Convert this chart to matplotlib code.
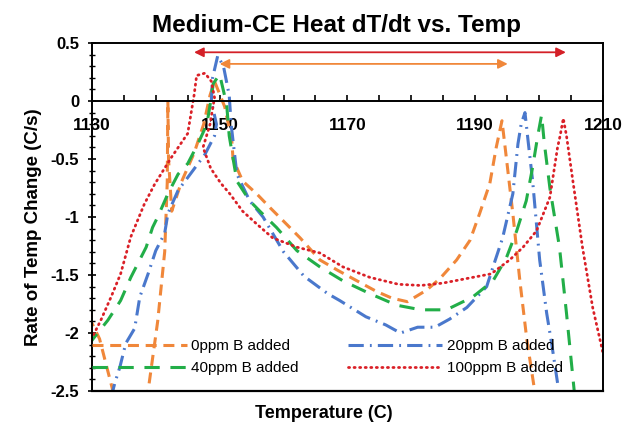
import matplotlib.pyplot as plt
from matplotlib.ticker import MultipleLocator, FuncFormatter

plt.rcParams["font.family"] = ["Liberation Sans", "DejaVu Sans"]
plt.rcParams["axes.unicode_minus"] = False


# =========================================================
# Data
# =========================================================

labels = ["0ppm B added", "20ppm B added", "40ppm B added", "100ppm B added"]

x_ticks = [1130, 1150, 1170, 1190, 1210]

temp_0ppm = [1199.6, 1198.1, 1197.0, 1195.9, 1194.8, 1194.2, 1193.3, 1192.3, 1190.7,
             1189.2, 1187.1, 1184.5, 1182.4, 1179.4, 1177.0, 1174.5, 1171.5, 1168.5,
             1165.7, 1162.6, 1159.9, 1157.9, 1155.8, 1153.6, 1152.1, 1151.9, 1150.8,
             1149.2, 1148.5, 1147.5, 1146.0, 1144.0, 1142.5, 1142.0, 1141.9, 1141.8,
             1141.4, 1140.3, 1138.8, 1136.5, 1134.5, 1133.3, 1131.2, 1129.0]
rate_0ppm = [-2.6, -2.06, -1.55, -0.97, -0.45, -0.17, -0.4, -0.71, -0.97,
             -1.2, -1.37, -1.53, -1.63, -1.73, -1.70, -1.64, -1.55, -1.46,
             -1.37, -1.18, -1.03, -0.92, -0.8, -0.69, -0.5, -0.34, -0.05,
             0.17, 0.05, -0.2, -0.45, -0.7, -0.95, -0.5, 0.0, -0.7,
             -1.3, -1.9, -2.5, -2.9, -2.9, -2.5, -2.05, -1.8]

temp_20ppm = [1202.9, 1202.0, 1201.2, 1200.1, 1199.0, 1198.3, 1197.8, 1197.2, 1196.7,
              1195.9, 1194.3, 1192.8, 1191.8, 1188.7, 1186.0, 1183.7, 1181.0, 1178.3,
              1176.0, 1172.9, 1168.8, 1166.9, 1163.2, 1160.0, 1156.8, 1154.7, 1152.7,
              1151.8, 1151.5, 1150.6, 1149.7, 1148.9, 1148.7, 1149.5, 1149.2, 1147.7,
              1145.0, 1143.5, 1141.9, 1141.4, 1140.0, 1138.8, 1137.5, 1136.7, 1135.3,
              1134.4, 1133.6, 1132.8]
rate_20ppm = [-2.43, -2.1, -1.83, -1.37, -0.69, -0.35, -0.1, -0.2, -0.37,
              -0.8, -1.18, -1.43, -1.6, -1.78, -1.88, -1.95, -1.95, -2.0,
              -1.93, -1.86, -1.72, -1.66, -1.51, -1.30, -1.0, -0.86, -0.63,
              -0.2, 0.05, 0.3, 0.39, 0.2, 0.0, -0.2, -0.3, -0.46,
              -0.66, -0.77, -0.97, -1.14, -1.29, -1.49, -1.69, -1.96, -2.09,
              -2.29, -2.43, -2.6]

temp_40ppm = [1205.6, 1204.3, 1203.2, 1201.7, 1200.8, 1200.4, 1199.8, 1199.0, 1198.0,
              1196.5, 1194.9, 1192.8, 1189.6, 1185.5, 1181.5, 1177.7, 1173.5, 1169.3,
              1165.7, 1162.1, 1158.9, 1156.3, 1154.7, 1152.7, 1151.5, 1151.1, 1150.0,
              1149.0, 1148.7, 1148.0, 1146.6, 1145.0, 1143.5, 1141.9, 1140.3, 1139.5,
              1138.5, 1136.1, 1134.5, 1132.5, 1130.9, 1129.5]
rate_40ppm = [-2.55, -1.83, -1.26, -0.75, -0.35, -0.12, -0.3, -0.57, -0.86,
              -1.12, -1.35, -1.55, -1.69, -1.80, -1.80, -1.76, -1.66, -1.55,
              -1.43, -1.29, -1.09, -0.95, -0.86, -0.69, -0.3, -0.03, 0.23,
              0.15, 0.03, -0.2, -0.37, -0.54, -0.63, -0.8, -1.0, -1.09,
              -1.26, -1.52, -1.72, -1.89, -2.0, -2.1]

temp_100ppm = [1210.5, 1209.8, 1208.4, 1206.8, 1205.3, 1204.3, 1203.8, 1203.3, 1202.9,
               1201.7, 1199.6, 1197.5, 1195.4, 1192.5, 1188.7, 1184.9, 1181.5, 1178.0,
               1173.5, 1169.3, 1165.7, 1162.1, 1158.3, 1155.8, 1153.6, 1151.6, 1150.2,
               1148.6, 1147.4, 1148.5, 1149.2, 1148.7, 1147.7, 1146.4, 1146.0, 1145.0,
               1142.4, 1139.8, 1138.2, 1136.1, 1134.5, 1133.0, 1131.4, 1130.4, 1129.5]
rate_100ppm = [-2.3, -2.12, -1.78, -1.26, -0.69, -0.3, -0.15, -0.3, -0.4,
               -0.83, -1.12, -1.26, -1.37, -1.49, -1.53, -1.57, -1.59, -1.58,
               -1.52, -1.43, -1.31, -1.26, -1.18, -1.06, -0.95, -0.8, -0.71,
               -0.58, -0.4, -0.2, 0.03, 0.17, 0.24, 0.22, 0.05, -0.28,
               -0.49, -0.72, -0.89, -1.17, -1.49, -1.69, -1.89, -2.0, -2.1]

# double arrows at the top: (start temp, end temp, rate level)
red_arrow = (1146.0, 1204.2, 0.42)
orange_arrow = (1150.0, 1195.1, 0.32)


# =========================================================
# Plot
# =========================================================

fig = plt.figure(figsize=(6.38, 4.28), dpi=100)
ax = fig.add_axes([0.144, 0.0864, 0.801, 0.8131])

l0, = ax.plot(temp_0ppm, rate_0ppm, color="#F0873A", lw=2.2,
              dashes=(3.6, 2.2), label=labels[0])
l20, = ax.plot(temp_20ppm, rate_20ppm, color="#4A78CC", lw=2.2,
               dashes=(5.0, 2.0, 0.6, 2.0), label=labels[1])
l40, = ax.plot(temp_40ppm, rate_40ppm, color="#22AE48", lw=2.2,
               dashes=(5.0, 3.5), label=labels[2])
l100, = ax.plot(temp_100ppm, rate_100ppm, color="#DA2027", lw=2.0,
                dashes=(0.4, 1.6), dash_capstyle="round", label=labels[3])

for (x0, x1, y), col in [(red_arrow, "#D42027"), (orange_arrow, "#F0873A")]:
    ax.annotate("", xy=(x1, y), xytext=(x0, y),
                arrowprops=dict(arrowstyle="<|-|>", color=col, lw=1.3,
                                mutation_scale=14, shrinkA=0, shrinkB=0))

ax.set_xlim(1130, 1210)
ax.set_ylim(-2.5, 0.5)

# x axis drawn on the zero line, plus the bottom frame line
ax.spines["bottom"].set_position(("data", 0))
ax.axhline(-2.5, color="black", lw=1.6, clip_on=False, zorder=3)
for side in ["left", "right", "top", "bottom"]:
    ax.spines[side].set_linewidth(1.4)

ax.set_xticks(x_ticks)
ax.xaxis.set_minor_locator(MultipleLocator(5))
ax.yaxis.set_major_locator(MultipleLocator(0.5))
ax.yaxis.set_minor_locator(MultipleLocator(0.1))
ax.yaxis.set_major_formatter(FuncFormatter(lambda v, p: f"{v:g}"))

ax.tick_params(axis="x", which="both", direction="in", length=4, width=1.2,
               labelsize=12.5, pad=12)
ax.tick_params(axis="y", which="major", direction="inout", length=6, width=1.2,
               labelsize=12, pad=6)
ax.tick_params(axis="y", which="minor", direction="inout", length=4, width=1.0)

for lab in ax.get_xticklabels() + ax.get_yticklabels():
    lab.set_fontweight("bold")

fig.text(336 / 638, 1 - 32 / 428, "Medium-CE Heat dT/dt vs. Temp",
         fontsize=17.5, fontweight="bold", ha="center", va="baseline")
fig.text(324 / 638, 1 - 413 / 428, "Temperature (C)",
         fontsize=13, fontweight="bold", ha="center", va="center")
fig.text(34 / 638, 1 - 227 / 428, "Rate of Temp Change (C/s)",
         fontsize=13.5, fontweight="bold", ha="center", va="center", rotation=90)

# legend rows: 0ppm | 20ppm, then 40ppm | 100ppm
ax.legend([l0, l40, l20, l100], [labels[0], labels[2], labels[1], labels[3]],
          loc="lower left", bbox_to_anchor=(0.0, 0.045), ncol=2, frameon=False,
          fontsize=11, handlelength=6.2, columnspacing=3.2, handletextpad=0.3,
          borderaxespad=0, borderpad=0, labelspacing=0.55)

fig.savefig("out.png", dpi=100)
